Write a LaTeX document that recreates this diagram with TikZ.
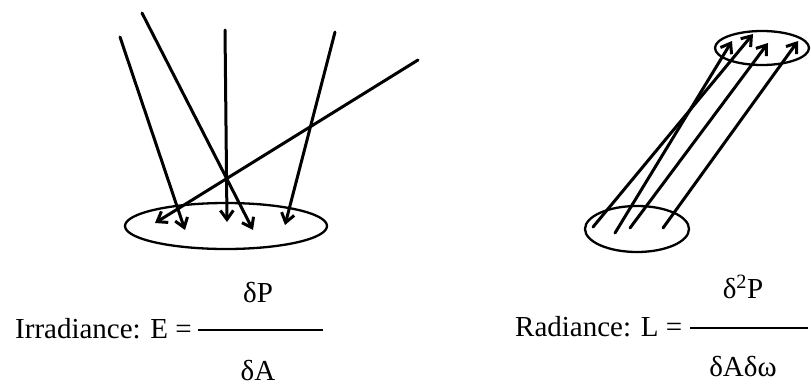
\documentclass[tikz,border=0pt]{standalone}
\usepackage{fontspec}
\setmainfont{Liberation Serif}
\usetikzlibrary{arrows.meta}
\tikzset{
  ray/.style={line width=3pt, line cap=round, -{Straight Barb[length=9pt,width=13pt,line width=3pt]}},
  patch/.style={line width=2.3pt},
  lbl/.style={font=\fontsize{29}{32}\selectfont, inner sep=0pt},
  fracline/.style={line width=1.4pt}
}
\begin{document}
\begin{tikzpicture}[x=1pt,y=-1pt]
\useasboundingbox (0,0) rectangle (811,386);
% left: irradiance
\draw[patch] (226,226) ellipse [x radius=101, y radius=23];
\coordinate (s1) at (120,37);  \coordinate (t1) at (185,230);
\coordinate (s2) at (142,13);  \coordinate (t2) at (253,230);
\coordinate (s3) at (225,30);  \coordinate (t3) at (227,222);
\coordinate (s4) at (335,32);  \coordinate (t4) at (285,225);
\coordinate (s5) at (418,60);  \coordinate (t5) at (155,223);
\draw[ray] (s1) -- (t1);
\draw[ray] (s2) -- (t2);
\draw[ray] (s3) -- (t3);
\draw[ray] (s4) -- (t4);
\draw[ray] (s5) -- (t5);
% right: radiance
\draw[patch] (637,229) ellipse [x radius=52, y radius=23];
\draw[patch] (762,48) ellipse [x radius=47, y radius=17];
\coordinate (a1) at (593,227); \coordinate (b1) at (753,34);
\coordinate (a2) at (615,233); \coordinate (b2) at (732,41);
\coordinate (a3) at (630,228); \coordinate (b3) at (768,43);
\coordinate (a4) at (663,228); \coordinate (b4) at (798,41);
\draw[ray] (a1) -- (b1);
\draw[ray] (a2) -- (b2);
\draw[ray] (a3) -- (b3);
\draw[ray] (a4) -- (b4);
% formulas
\node[lbl, anchor=base west] (irr) at (15,338) {Irradiance: E =};
\coordinate (fl1) at (198,330); \coordinate (fl2) at (323,330);
\draw[fracline] (fl1) -- (fl2);
\node[lbl, anchor=base] (dp) at (258,302) {δP};
\node[lbl, anchor=base] (da) at (258,380) {δA};
\node[lbl, anchor=base west] (rad) at (515,336) {Radiance: L =};
\coordinate (fr1) at (690,328); \coordinate (fr2) at (808,328);
\draw[fracline] (fr1) -- (fr2);
\node[lbl, anchor=base] (d2p) at (743,298) {δ\textsuperscript{2}P};
\node[lbl, anchor=base] (dadw) at (743,376) {δAδω};
\end{tikzpicture}
\end{document}
